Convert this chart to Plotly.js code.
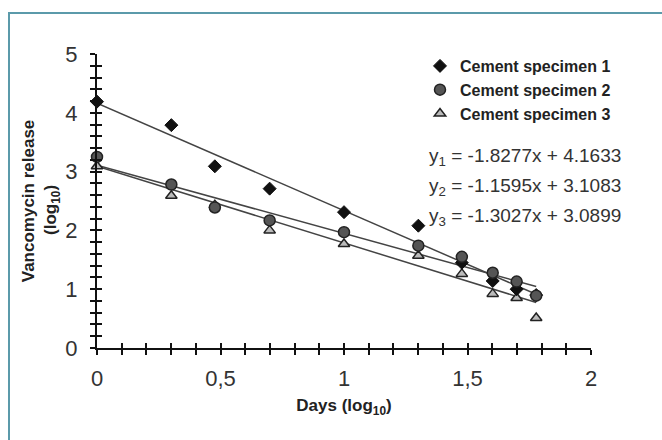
<!DOCTYPE html>
<html>
<head>
<meta charset="utf-8">
<script src="https://cdn.plot.ly/plotly-3.0.1.min.js"></script>
<style>html,body{margin:0;padding:0;background:#fff;}#chart{width:662px;height:440px;}</style>
</head>
<body>
<div id="chart"></div>
<script>
// Days (log10): 1,2,3,5,10,20,30,40,50,60 days
const days = [1, 2, 3, 5, 10, 20, 30, 40, 50, 60];
const xLog = days.map(d => Math.log10(d));
const seriesNames = ["Cement specimen 1", "Cement specimen 2", "Cement specimen 3"];
const spec1 = [4.19, 3.79, 3.09, 2.71, 2.31, 2.08, 1.45, 1.14, 1.00, 0.90];
const spec2 = [3.25, 2.78, 2.39, 2.17, 1.97, 1.74, 1.55, 1.28, 1.13, 0.89];
const spec3 = [3.09, 2.59, 2.43, 2.00, 1.77, 1.57, 1.26, 0.92, 0.85, 0.51];
const slopes = [-1.8277, -1.1595, -1.3027];
const intercepts = [4.1633, 3.1083, 3.0899];
const xTickVals = [0, 0.5, 1, 1.5, 2];
const xTickText = ["0", "0,5", "1", "1,5", "2"];
const yTickVals = [0, 1, 2, 3, 4, 5];

const FONT = "Liberation Sans, Arial, sans-serif";
const series = [spec1, spec2, spec3];
const markerStyles = [
  {symbol: "diamond", size: 10, color: "#111", line: {color: "#111", width: 1}},
  {symbol: "circle", size: 11, color: "#555", line: {color: "#222", width: 1.5}},
  {symbol: "triangle-up", size: 10, color: "#bbb", line: {color: "#222", width: 1.5}}
];

const traces = [];
// trend lines
for (let i = 0; i < 3; i++) {
  const xs = [xLog[0], xLog[xLog.length - 1]];
  traces.push({
    x: xs, y: xs.map(x => slopes[i] * x + intercepts[i]),
    mode: "lines", line: {color: "#444", width: 1.5},
    showlegend: false, hoverinfo: "skip", cliponaxis: false
  });
}
// markers (draw 3, then 1, then 2 so circles are on top like reference)
[2, 0, 1].forEach(i => {
  traces.push({
    x: xLog, y: series[i], name: "<b>" + seriesNames[i] + "</b>",
    mode: "markers", marker: markerStyles[i], cliponaxis: false,
    legendrank: i + 1, legendgroup: "g" + i
  });
});
// overlay axis for inward ticks
traces.push({x: [0], y: [0], xaxis: "x2", yaxis: "y2", mode: "markers", marker: {opacity: 0}, showlegend: false, hoverinfo: "skip"});

const eqLabels = slopes.map((s, i) =>
  "y<sub>" + (i + 1) + "</sub> = " + s.toFixed(4) + "x + " + intercepts[i].toFixed(4));

const plotW = 494, plotH = 294;
const annotations = eqLabels.map((t, i) => ({
  text: t, xref: "paper", yref: "paper",
  x: (623 - 97) / plotW, y: (348 - (157 + 30 * i)) / plotH,
  xanchor: "right", yanchor: "middle", showarrow: false,
  font: {family: FONT, size: 19, color: "#333"}
}));
annotations.push({
  text: "<b>(log<sub>10</sub>)</b>", xref: "paper", yref: "paper",
  x: (52 - 97) / plotW, y: (348 - 210) / plotH, textangle: -90,
  xanchor: "center", yanchor: "middle", showarrow: false,
  font: {family: FONT, size: 17, color: "#222"}
});

const axisCommon = {
  showgrid: false, zeroline: false, showline: true, linecolor: "#111", linewidth: 2,
  ticks: "outside", ticklen: 5, tickwidth: 2, tickcolor: "#111"
};

const layout = {
  width: 662, height: 440,
  margin: {l: 97, r: 71, t: 54, b: 92},
  paper_bgcolor: "#fff", plot_bgcolor: "#fff",
  separators: ", ",
  showlegend: true,
  legend: {
    x: (420 - 97) / plotW, y: (348 - 49) / plotH, xanchor: "left", yanchor: "top",
    bgcolor: "rgba(0,0,0,0)", font: {family: FONT, size: 16, color: "#222"},
    itemwidth: 30, tracegroupgap: 0
  },
  xaxis: Object.assign({}, axisCommon, {
    range: [0, 2], tickvals: xTickVals, ticktext: xTickText,
    tickfont: {family: FONT, size: 22, color: "#333"}, ticklabelstandoff: 5,
    minor: {dtick: 0.1, ticks: "outside", ticklen: 5, tickwidth: 2, tickcolor: "#111", showgrid: false},
    title: {text: "<b>Days (log<sub>10</sub>)</b>", font: {family: FONT, size: 17, color: "#222"}, standoff: 9}
  }),
  yaxis: Object.assign({}, axisCommon, {
    range: [0, 5], tickvals: yTickVals,
    tickfont: {family: FONT, size: 22, color: "#333"}, ticklabelstandoff: 8,
    minor: {dtick: 0.2, ticks: "outside", ticklen: 5, tickwidth: 2, tickcolor: "#111", showgrid: false},
    title: {text: "<b>Vancomycin release</b>", font: {family: FONT, size: 17, color: "#222"}, standoff: 26}
  }),
  xaxis2: {
    overlaying: "x", range: [0, 2], showgrid: false, zeroline: false, showline: false,
    ticks: "inside", ticklen: 5, tickwidth: 2, tickcolor: "#111", tickvals: xTickVals, showticklabels: false,
    minor: {dtick: 0.1, ticks: "inside", ticklen: 5, tickwidth: 2, tickcolor: "#111", showgrid: false}
  },
  yaxis2: {
    overlaying: "y", range: [0, 5], showgrid: false, zeroline: false, showline: false,
    ticks: "inside", ticklen: 5, tickwidth: 2, tickcolor: "#111", tickvals: yTickVals, showticklabels: false,
    minor: {dtick: 0.2, ticks: "inside", ticklen: 5, tickwidth: 2, tickcolor: "#111", showgrid: false}
  },
  annotations: annotations,
  shapes: [{
    type: "path", xref: "paper", yref: "paper",
    path: "M " + ((9 - 97) / plotW) + " " + (-0.5) + " L " + ((9 - 97) / plotW) + " " + ((348 - 13) / plotH) +
          " L " + 1.3 + " " + ((348 - 13) / plotH),
    line: {color: "#5b9aaa", width: 2}
  }]
};

Plotly.newPlot("chart", traces, layout, {displayModeBar: false, staticPlot: true});
</script>
</body>
</html>
